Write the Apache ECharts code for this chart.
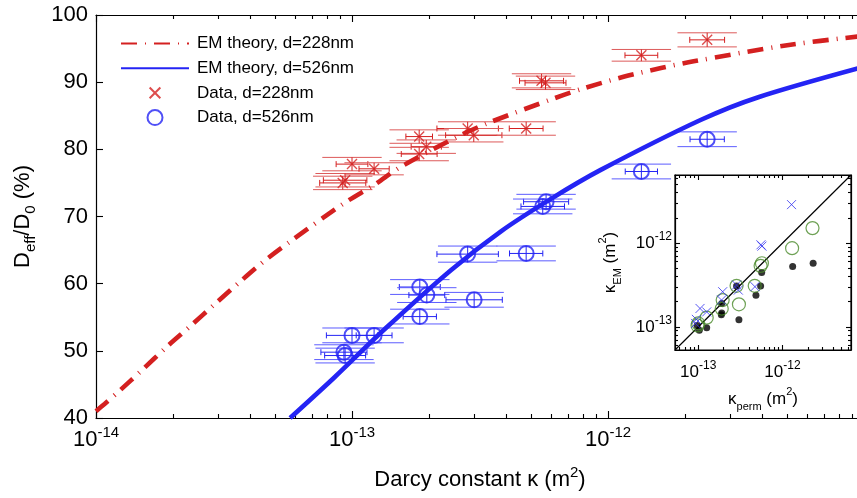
<!DOCTYPE html>
<html>
<head>
<meta charset="utf-8">
<script src="https://cdn.jsdelivr.net/npm/echarts@6/dist/echarts.min.js"></script>
<style>
  html, body { margin: 0; background: #fff; }
  #chart { width: 857px; height: 498px; }
</style>
</head>
<body>
<div id="chart"></div>
<script>
// EM theory curves (kappa in m^2, Deff/D0 in %)
const theoryK228 = [1.0e-14, 1.08e-14, 1.24e-14, 1.51e-14, 1.89e-14, 2.34e-14, 2.92e-14, 3.63e-14, 4.52e-14, 5.75e-14,
  9.33e-14, 1.22e-13, 1.55e-13, 2.59e-13, 3.39e-13, 6.17e-13, 8.05e-13, 1.15e-12, 1.61e-12, 2.16e-12, 5.01e-12, 1.0e-11];
const theoryD228 = [41.0, 42.1, 44.1, 47.1, 50.6, 53.7, 57.0, 60.2, 63.3, 66.3,
  72.0, 74.7, 77.4, 81.9, 83.9, 87.6, 89.1, 90.8, 92.1, 93.1, 95.5, 96.9];
const theoryK526 = [5.73e-14, 8.51e-14, 1.33e-13, 2.44e-13, 3.82e-13, 6.03e-13, 9.33e-13, 2.31e-12, 3.89e-12, 1.0e-11];
const theoryD526 = [40.0, 46.0, 53.1, 62.05, 67.8, 72.7, 76.9, 84.4, 87.8, 92.3];

// measured data, d = 228 nm (kappa, D, kappa half-error in decades, D half-error)
const dataK228 = [9.2e-14, 9.4e-14, 1.0e-13, 1.22e-13, 1.83e-13, 1.95e-13, 1.83e-13, 2.83e-13, 2.99e-13, 4.79e-13, 5.5e-13, 5.7e-13, 1.35e-12, 2.44e-12];
const dataD228 = [75.0, 75.4, 77.8, 77.1, 81.9, 80.4, 79.3, 83.1, 82.1, 83.1, 90.2, 89.9, 94.0, 96.3];
const dataKErr228 = [0.09, 0.085, 0.062, 0.059, 0.052, 0.059, 0.07, 0.12, 0.11, 0.066, 0.086, 0.08, 0.064, 0.068];
const dataDErr228 = [1.0, 1.0, 1.0, 0.9, 1.0, 1.0, 1.0, 1.0, 1.0, 1.0, 1.05, 1.0, 0.87, 1.05];

// measured data, d = 526 nm
const dataK526 = [5.73e-13, 5.56e-13, 2.83e-13, 4.79e-13, 1.84e-13, 1.96e-13, 3.0e-13, 1.84e-13, 1.0e-13, 1.22e-13, 9.3e-14, 9.4e-14, 2.44e-12, 1.35e-12];
const dataD526 = [72.2, 71.5, 64.4, 64.5, 59.5, 58.3, 57.6, 55.1, 52.3, 52.3, 49.8, 49.3, 81.5, 76.7];
const dataKErr526 = [0.088, 0.085, 0.12, 0.065, 0.08, 0.07, 0.11, 0.065, 0.1, 0.07, 0.09, 0.08, 0.067, 0.063];
const dataDErr526 = [1.1, 1.1, 1.2, 1.1, 1.1, 1.1, 1.1, 1.1, 1.1, 1.1, 1.1, 1.1, 1.1, 1.1];

// inset: kappa_perm vs kappa_EM
const insetPermX = [1.28e-12, 5.55e-13, 5.7e-13, 2.85e-13, 2.99e-13, 4.71e-13, 1.95e-13, 1.89e-13, 1.05e-13, 1.26e-13, 9.5e-14, 9.3e-14];
const insetEMX = [2.88e-12, 9.55e-13, 9.2e-13, 3.16e-13, 2.75e-13, 3.02e-13, 2.63e-13, 2.09e-13, 1.66e-13, 1.51e-13, 1.23e-13, 1.1e-13];
const insetPermO = [2.27e-12, 1.30e-12, 5.7e-13, 5.5e-13, 3.04e-13, 4.68e-13, 2.85e-13, 1.95e-13, 1.9e-13, 1.26e-13, 1.0e-13, 9.8e-14];
const insetEMO = [1.51e-12, 8.7e-13, 5.75e-13, 5.35e-13, 1.86e-13, 3.09e-13, 3.09e-13, 2.09e-13, 1.65e-13, 1.29e-13, 1.1e-13, 1.04e-13];
const insetPermDot = [2.31e-12, 1.32e-12, 5.66e-13, 5.5e-13, 4.84e-13, 2.85e-13, 3.04e-13, 1.9e-13, 1.9e-13, 1.88e-13, 1.26e-13, 9.7e-14, 1.03e-13];
const insetEMDot = [5.75e-13, 5.25e-13, 4.47e-13, 3.08e-13, 2.39e-13, 3.08e-13, 1.22e-13, 1.9e-13, 1.47e-13, 1.4e-13, 9.8e-14, 1.04e-13, 9.1e-14];
const insetRange = [5.3e-14, 6.5e-12];

// ticks
const mainMajor = [1e-14, 1e-13, 1e-12];
const mainLabels = [1e-14, 1e-13, 1e-12];
const insetMajor = [1e-13, 1e-12];
function minorsOf(first, decades) {
  const out = [];
  for (let d = 0; d < decades; d++) {
    for (let m = 2; m <= 9; m++) out.push(m * first * Math.pow(10, d));
  }
  return out;
}
const mainMinor = minorsOf(1e-14, 3);
const insetMinor = minorsOf(1e-14, 3);

const FONT = '"Liberation Sans", Helvetica, Arial, sans-serif';
const RED = '#d42020';
const BLUE = '#2424f4';
const CAP_DEC = 0.116; // half width of the y-error caps, in decades

const zip = (a, b) => a.map((v, i) => [v, b[i]]);
const expLabel = function (v) {
  return '{b|10}{s|' + Math.round(Math.log10(v)) + '}';
};

function errorBars(color, capColor) {
  return function (params, api) {
    const k = api.value(0), d = api.value(1), ke = api.value(2), de = api.value(3);
    const f = Math.pow(10, ke), c = Math.pow(10, CAP_DEC);
    const l = api.coord([k / f, d]), r = api.coord([k * f, d]);
    const t = api.coord([k, d + de]), b = api.coord([k, d - de]);
    const tl = api.coord([k / c, d + de]), tr = api.coord([k * c, d + de]);
    const bl = api.coord([k / c, d - de]), br = api.coord([k * c, d - de]);
    const seg = (p, q, stroke) => ({
      type: 'line', shape: { x1: p[0], y1: p[1], x2: q[0], y2: q[1] },
      style: { stroke: stroke, lineWidth: 1 }
    });
    return {
      type: 'group',
      children: [
        seg(tl, tr, capColor), seg(bl, br, capColor),
        seg(t, b, color), seg(l, r, color),
        seg([l[0], l[1] - 3], [l[0], l[1] + 3], color),
        seg([r[0], r[1] - 3], [r[0], r[1] + 3], color)
      ]
    };
  };
}

function logAxisDef(grid, pos, range, ticks, len, opts) {
  return Object.assign({
    type: 'log', gridIndex: grid, position: pos, min: range[0], max: range[1],
    axisLine: { show: true, onZero: false, lineStyle: { color: '#000', width: 1.2 } },
    axisTick: { show: true, inside: true, length: len, customValues: ticks, lineStyle: { color: '#000', width: 1.1 } },
    axisLabel: { show: false },
    splitLine: { show: false }, minorTick: { show: false }
  }, opts || {});
}

const xStyle = {
  b: { fontSize: 22, fontFamily: FONT, color: '#000', lineHeight: 30 },
  s: { fontSize: 15, fontFamily: FONT, color: '#000', verticalAlign: 'top', lineHeight: 14 }
};
const insetStyle = {
  b: { fontSize: 17, fontFamily: FONT, color: '#000', lineHeight: 24 },
  s: { fontSize: 12, fontFamily: FONT, color: '#000', verticalAlign: 'top', lineHeight: 11 }
};
const subSup = {
  sub: { fontSize: 11, fontFamily: FONT, color: '#000', verticalAlign: 'bottom', lineHeight: 11 },
  sup: { fontSize: 11, fontFamily: FONT, color: '#000', verticalAlign: 'top', lineHeight: 11 }
};
const noSymbol = { color: 'rgba(0,0,0,0)', borderWidth: 0 };

const chart = echarts.init(document.getElementById('chart'), null, { renderer: 'canvas' });

const option = {
  backgroundColor: '#fff',
  animation: false,
  grid: [
    { left: 96, top: 15, width: 768, height: 403, containLabel: false, outerBoundsMode: 'none' },
    { left: 675, top: 175, width: 176, height: 175, containLabel: false, outerBoundsMode: 'none',
      show: true, backgroundColor: '#fff', borderColor: '#000', borderWidth: 1.2, z: 5 }
  ],
  legend: {
    orient: 'vertical', left: 120, top: 35, padding: 0,
    itemWidth: 68, itemHeight: 15, itemGap: 7.7,
    textStyle: { fontSize: 17, fontFamily: FONT, color: '#000', padding: [0, 0, 0, 3] },
    data: [
      { name: 'EM theory, d=228nm', itemStyle: noSymbol },
      { name: 'EM theory, d=526nm', itemStyle: noSymbol },
      'Data, d=228nm', 'Data, d=526nm'
    ]
  },
  xAxis: [
    logAxisDef(0, 'bottom', [1e-14, 1e-11], mainMajor, 7, {
      axisLabel: { show: true, customValues: mainLabels, margin: 7, formatter: expLabel, rich: xStyle },
      name: 'Darcy constant κ (m{s|2})', nameLocation: 'middle', nameGap: 47, nameMoveOverlap: false,
      nameTextStyle: { fontSize: 22, fontFamily: FONT, color: '#000', lineHeight: 30, rich: xStyle }
    }),
    logAxisDef(0, 'bottom', [1e-14, 1e-11], mainMinor, 4, { axisLine: { show: false } }),
    logAxisDef(0, 'top', [1e-14, 1e-11], mainMajor, 7),
    logAxisDef(0, 'top', [1e-14, 1e-11], mainMinor, 4, { axisLine: { show: false } }),
    logAxisDef(1, 'bottom', insetRange, insetMajor, 5, {
      z: 6,
      axisLabel: { show: true, customValues: insetMajor, margin: 10, formatter: expLabel, rich: insetStyle },
      name: 'κ{sub|perm} (m{sup|2})', nameLocation: 'middle', nameGap: 36, nameMoveOverlap: false,
      nameTextStyle: { fontSize: 17, fontFamily: FONT, color: '#000', lineHeight: 26, rich: subSup }
    }),
    logAxisDef(1, 'bottom', insetRange, insetMinor, 3, { z: 6, axisLine: { show: false } }),
    logAxisDef(1, 'top', insetRange, insetMajor, 5, { z: 6 }),
    logAxisDef(1, 'top', insetRange, insetMinor, 3, { z: 6, axisLine: { show: false } })
  ],
  yAxis: [
    {
      type: 'value', gridIndex: 0, position: 'left', min: 40, max: 100, interval: 10,
      axisLine: { show: true, onZero: false, lineStyle: { color: '#000', width: 1.2 } },
      axisTick: { show: true, inside: true, length: 7, lineStyle: { color: '#000', width: 1.1 } },
      axisLabel: { fontSize: 22, fontFamily: FONT, color: '#000', margin: 8 },
      splitLine: { show: false },
      name: 'D{sub|eff}/D{sub|0} (%)', nameLocation: 'middle', nameGap: 58, nameRotate: 90, nameMoveOverlap: false,
      nameTextStyle: {
        fontSize: 22, fontFamily: FONT, color: '#000', lineHeight: 30,
        rich: { sub: { fontSize: 15, fontFamily: FONT, color: '#000', verticalAlign: 'bottom', lineHeight: 14 } }
      }
    },
    {
      type: 'value', gridIndex: 0, position: 'right', min: 40, max: 100, interval: 10,
      axisLine: { show: true, onZero: false, lineStyle: { color: '#000', width: 1.2 } },
      axisTick: { show: true, inside: true, length: 7, lineStyle: { color: '#000' } },
      axisLabel: { show: false }, splitLine: { show: false }
    },
    logAxisDef(1, 'left', insetRange, insetMajor, 5, {
      z: 6,
      axisLabel: { show: true, customValues: insetMajor, margin: 3, formatter: expLabel, rich: insetStyle },
      name: 'κ{sub|EM} (m{sup|2})', nameLocation: 'middle', nameGap: 52, nameRotate: 90, nameMoveOverlap: false,
      nameTextStyle: { fontSize: 17, fontFamily: FONT, color: '#000', lineHeight: 26, rich: subSup }
    }),
    logAxisDef(1, 'left', insetRange, insetMinor, 3, { z: 6, axisLine: { show: false } }),
    logAxisDef(1, 'right', insetRange, insetMajor, 5, { z: 6 }),
    logAxisDef(1, 'right', insetRange, insetMinor, 3, { z: 6, axisLine: { show: false } })
  ],
  series: [
    {
      name: 'EM theory, d=228nm', type: 'line', xAxisIndex: 0, yAxisIndex: 0, z: 4,
      data: zip(theoryK228, theoryD228), smooth: 0.3, symbol: 'none', silent: true,
      itemStyle: { color: RED },
      lineStyle: { color: RED, width: 4.6, type: [16, 8, 1, 8], cap: 'butt' }
    },
    {
      name: 'EM theory, d=526nm', type: 'line', xAxisIndex: 0, yAxisIndex: 0, z: 4,
      data: zip(theoryK526, theoryD526), smooth: 0.3, symbol: 'none', silent: true,
      itemStyle: { color: BLUE },
      lineStyle: { color: BLUE, width: 4.6 }
    },
    {
      type: 'custom', xAxisIndex: 0, yAxisIndex: 0, z: 2, silent: true,
      renderItem: errorBars(RED, '#dd5a5a'),
      encode: { x: 0, y: 1 },
      data: dataK228.map((k, i) => [k, dataD228[i], dataKErr228[i], dataDErr228[i]])
    },
    {
      type: 'custom', xAxisIndex: 0, yAxisIndex: 0, z: 2, silent: true,
      renderItem: errorBars(BLUE, '#5c5cff'),
      encode: { x: 0, y: 1 },
      data: dataK526.map((k, i) => [k, dataD526[i], dataKErr526[i], dataDErr526[i]])
    },
    {
      name: 'Data, d=228nm', type: 'scatter', xAxisIndex: 0, yAxisIndex: 0, z: 3,
      data: zip(dataK228, dataD228),
      symbol: 'path://M0,0L0,0M2,2L12,12M12,2L2,12M14,14L14,14', symbolSize: 14,
      itemStyle: { color: 'rgba(0,0,0,0)', borderColor: RED, borderWidth: 1.4 }
    },
    {
      name: 'Data, d=526nm', type: 'scatter', xAxisIndex: 0, yAxisIndex: 0, z: 3,
      data: zip(dataK526, dataD526),
      symbol: 'circle', symbolSize: 15,
      itemStyle: { color: 'rgba(0,0,0,0)', borderColor: BLUE, borderWidth: 2 }
    },
    {
      type: 'line', xAxisIndex: 4, yAxisIndex: 2, z: 7, silent: true,
      data: zip(insetRange, insetRange), symbol: 'none',
      lineStyle: { color: '#000', width: 1.2 }
    },
    {
      type: 'scatter', xAxisIndex: 4, yAxisIndex: 2, z: 8,
      data: zip(insetPermDot, insetEMDot), symbol: 'circle', symbolSize: 7,
      itemStyle: { color: '#000' }
    },
    {
      type: 'scatter', xAxisIndex: 4, yAxisIndex: 2, z: 9,
      data: zip(insetPermO, insetEMO), symbol: 'circle', symbolSize: 13,
      itemStyle: { color: 'rgba(0,0,0,0)', borderColor: '#4a8a2a', borderWidth: 1.2 }
    },
    {
      type: 'scatter', xAxisIndex: 4, yAxisIndex: 2, z: 10,
      data: zip(insetPermX, insetEMX), symbol: 'path://M0,0L10,10M10,0L0,10', symbolSize: 9,
      itemStyle: { color: 'rgba(0,0,0,0)', borderColor: '#3030f0', borderWidth: 1 }
    }
  ]
};

chart.setOption(option);
</script>
</body>
</html>
